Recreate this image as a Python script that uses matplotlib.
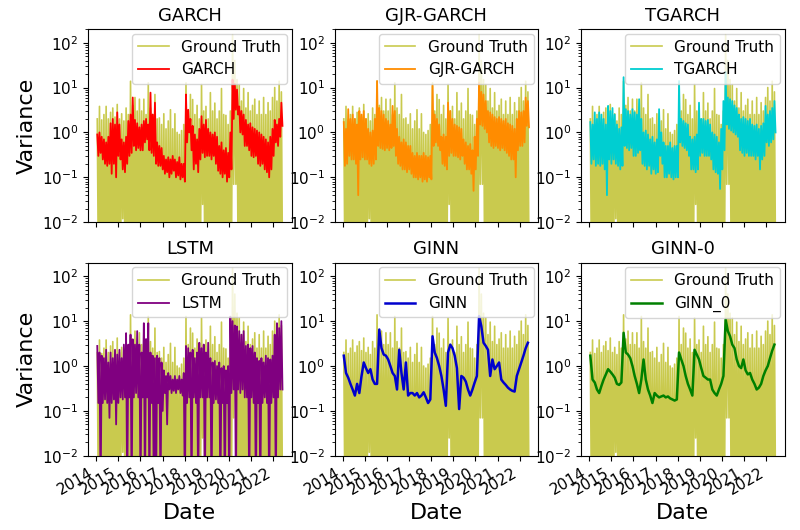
import numpy as np
import pandas as pd
import matplotlib
matplotlib.use("Agg")
import matplotlib.pyplot as plt
import matplotlib.dates as mdates

# sample dates (roughly every 5 weeks)
dates = pd.date_range("2014-01-20", "2022-05-15", periods=84)

# ground truth: upper envelope and lower values for each sample
gt_hi = [2.0, 3.8, 1.9, 2.5, 3.8, 2.0, 2.8, 3.5, 2.2, 4.2, 2.0, 2.6,
         1.8, 3.5, 2.5, 13.8, 4.0, 6.0, 3.0, 5.5, 3.0, 5.5, 2.5, 12.7,
         3.5, 2.5, 7.0, 2.0, 2.1, 1.5, 2.6, 1.2, 1.8, 3.2, 1.2, 2.6,
         1.0, 0.9, 1.1, 1.5, 12.7, 3.0, 7.0, 5.4, 2.5, 4.0, 2.0, 11.7,
         3.0, 3.8, 2.0, 7.7, 3.0, 4.5, 2.0, 3.0, 9.5, 2.5, 2.4, 1.5,
         3.0, 150.0, 40.0, 15.0, 11.7, 5.0, 9.5, 3.5, 7.7, 3.0, 4.0, 5.5,
         2.5, 5.0, 2.5, 6.0, 2.5, 4.6, 3.0, 6.0, 10.0, 5.0, 13.8, 8.0]
gt_lo = [0.001, 0.001, 0.001, 0.001, 0.001, 0.001, 0.001, 0.001, 0.001, 0.001, 0.001, 0.012,
         0.001, 0.001, 0.001, 0.001, 0.001, 0.001, 0.001, 0.001, 0.001, 0.001, 0.001, 0.001,
         0.001, 0.001, 0.001, 0.001, 0.001, 0.001, 0.001, 0.001, 0.001, 0.001, 0.001, 0.001,
         0.001, 0.001, 0.001, 0.001, 0.001, 0.001, 0.001, 0.001, 0.001, 0.001, 0.001, 0.025,
         0.001, 0.001, 0.001, 0.001, 0.001, 0.001, 0.001, 0.001, 0.001, 0.001, 0.001, 0.001,
         0.001, 0.07, 0.07, 0.001, 0.001, 0.001, 0.001, 0.001, 0.001, 0.001, 0.001, 0.001,
         0.001, 0.001, 0.001, 0.001, 0.001, 0.001, 0.001, 0.001, 0.001, 0.001, 0.001, 0.001]

garch_hi = [0.9, 1.0, 0.8, 0.7, 0.6, 0.8, 1.6, 2.0, 1.5, 2.8, 1.5, 0.7,
            0.6, 0.8, 1.8, 2.5, 6.0, 1.9, 1.6, 1.3, 1.5, 1.8, 2.0, 1.5,
            7.7, 2.5, 4.6, 0.6, 0.5, 0.45, 0.3, 0.25, 0.28, 0.25, 0.3, 0.25,
            0.22, 0.28, 0.2, 0.2, 7.0, 3.2, 2.0, 1.4, 0.9, 0.7, 1.2, 2.3,
            1.5, 1.9, 1.2, 1.0, 0.9, 1.0, 0.8, 0.5, 0.6, 0.4, 0.45, 0.35,
            1.0, 15.0, 12.0, 9.0, 3.8, 3.0, 2.5, 1.9, 1.5, 1.6, 1.3, 1.2,
            1.1, 1.0, 0.9, 0.8, 0.7, 0.6, 0.8, 1.2, 1.9, 1.5, 2.0, 4.6]
garch_lo = [0.3, 0.35, 0.25, 0.2, 0.18, 0.2, 0.12, 0.2, 0.1, 0.3, 0.25, 0.15,
            0.13, 0.2, 0.3, 0.35, 0.5, 0.4, 0.45, 0.4, 0.4, 0.6, 0.7, 0.4,
            0.35, 0.3, 0.2, 0.18, 0.18, 0.15, 0.12, 0.13, 0.1, 0.12, 0.14, 0.1,
            0.11, 0.09, 0.1, 0.08, 0.6, 1.0, 0.4, 0.15, 0.2, 0.13, 0.25, 0.35,
            0.28, 0.3, 0.3, 0.25, 0.3, 0.2, 0.14, 0.12, 0.1, 0.12, 0.08, 0.1,
            0.15, 2.0, 3.2, 2.5, 1.0, 0.9, 0.5, 0.5, 0.4, 0.3, 0.28, 0.3,
            0.2, 0.18, 0.2, 0.15, 0.13, 0.1, 0.15, 0.3, 0.6, 0.5, 0.8, 1.4]

gjr_hi = [1.7, 1.2, 3.3, 2.0, 2.5, 2.0, 1.5, 3.0, 2.5, 3.0, 2.0, 1.2,
          1.0, 1.1, 2.0, 14.0, 3.5, 3.0, 2.5, 2.0, 1.8, 1.5, 3.9, 3.0,
          1.2, 0.8, 0.6, 0.7, 0.6, 0.5, 0.5, 0.35, 0.3, 0.35, 0.3, 0.3,
          0.35, 0.3, 0.28, 0.3, 11.0, 2.5, 2.0, 1.5, 0.8, 0.9, 0.8, 4.6,
          3.0, 2.0, 1.5, 1.4, 1.3, 1.2, 0.7, 0.6, 0.5, 0.55, 0.4, 0.8,
          2.0, 13.0, 8.0, 7.0, 5.0, 3.0, 2.8, 2.5, 2.2, 2.0, 2.2, 2.0,
          1.8, 2.0, 1.6, 1.5, 1.4, 1.2, 2.0, 3.0, 2.8, 3.0, 6.0, 5.0]
gjr_lo = [0.18, 0.2, 0.3, 0.25, 0.25, 0.2, 0.04, 0.25, 0.28, 0.25, 0.25, 0.2,
          0.18, 0.2, 0.25, 0.5, 0.45, 0.43, 0.4, 0.45, 0.4, 0.45, 0.5, 0.3,
          0.2, 0.18, 0.15, 0.15, 0.13, 0.15, 0.12, 0.1, 0.1, 0.09, 0.1, 0.08,
          0.09, 0.08, 0.1, 0.09, 0.5, 0.6, 0.5, 0.4, 0.2, 0.18, 0.15, 0.3,
          0.35, 0.3, 0.3, 0.28, 0.25, 0.3, 0.2, 0.15, 0.15, 0.12, 0.05, 0.15,
          0.3, 1.5, 1.4, 1.2, 1.0, 0.6, 0.5, 0.45, 0.5, 0.45, 0.4, 0.45,
          0.4, 0.35, 0.3, 0.25, 0.25, 0.1, 0.4, 0.5, 0.5, 0.6, 1.4, 1.3]

tgarch_hi = [1.7, 1.5, 2.8, 2.0, 2.8, 2.5, 2.0, 1.5, 3.9, 3.0, 3.5, 2.5,
             1.5, 1.2, 1.3, 17.0, 3.3, 3.0, 2.5, 3.3, 2.8, 2.5, 5.5, 2.0,
             1.0, 1.1, 0.9, 0.7, 0.8, 0.6, 0.7, 3.3, 1.0, 0.6, 0.5, 0.5,
             0.6, 0.45, 0.5, 0.5, 14.0, 2.0, 1.8, 1.6, 1.5, 0.8, 0.7, 0.8,
             0.9, 4.6, 2.0, 2.0, 1.8, 1.9, 1.5, 1.0, 0.9, 0.8, 0.6, 1.2,
             5.0, 22.0, 6.0, 5.5, 5.0, 4.0, 3.5, 2.5, 2.0, 2.2, 2.0, 1.8,
             2.0, 1.5, 1.4, 1.5, 1.2, 1.4, 1.6, 3.9, 2.5, 3.0, 3.5, 5.0]
tgarch_lo = [0.2, 0.25, 0.18, 0.2, 0.18, 0.2, 0.15, 0.04, 0.25, 0.2, 0.25, 0.2,
             0.18, 0.15, 0.18, 0.5, 0.45, 0.4, 0.45, 0.3, 0.3, 0.35, 0.4, 0.2,
             0.18, 0.15, 0.18, 0.12, 0.15, 0.12, 0.13, 0.3, 0.2, 0.1, 0.1, 0.12,
             0.1, 0.09, 0.1, 0.1, 0.6, 0.5, 0.45, 0.4, 0.3, 0.15, 0.15, 0.13,
             0.15, 0.3, 0.35, 0.3, 0.3, 0.3, 0.25, 0.15, 0.13, 0.12, 0.055, 0.15,
             0.4, 1.5, 1.2, 1.1, 1.0, 0.9, 0.8, 0.4, 0.35, 0.3, 0.35, 0.3,
             0.3, 0.3, 0.25, 0.3, 0.15, 0.25, 0.3, 0.6, 0.5, 0.6, 0.7, 1.0]

lstm_hi = [2.8, 2.0, 1.7, 1.5, 2.3, 1.2, 2.0, 1.5, 2.3, 1.8, 2.3, 1.5,
           3.0, 5.4, 3.0, 5.0, 3.9, 3.0, 6.0, 3.0, 2.0, 9.0, 4.0, 9.0,
           2.0, 1.7, 1.5, 1.7, 1.5, 1.2, 0.8, 0.6, 0.7, 0.6, 0.5, 0.6,
           0.5, 0.6, 0.5, 0.7, 2.8, 2.5, 2.0, 2.3, 1.5, 2.0, 3.3, 2.5,
           3.0, 2.0, 3.3, 1.5, 1.2, 1.3, 1.0, 1.2, 0.9, 1.0, 0.8, 1.0,
           12.6, 10.0, 8.0, 7.6, 6.0, 5.0, 6.0, 2.8, 3.0, 2.5, 2.8, 2.0,
           1.5, 1.3, 1.5, 1.2, 1.7, 1.5, 1.4, 1.7, 5.0, 9.0, 7.0, 10.0]
lstm_lo = [0.15, 0.001, 0.15, 0.18, 0.15, 0.07, 0.15, 0.18, 0.05, 0.15, 0.2, 0.18,
           0.2, 0.001, 0.2, 0.001, 0.2, 0.25, 0.2, 0.001, 0.2, 0.001, 0.2, 0.001,
           0.15, 0.001, 0.001, 0.15, 0.001, 0.1, 0.25, 0.05, 0.3, 0.25, 0.28, 0.25,
           0.3, 0.25, 0.22, 0.001, 0.15, 0.2, 0.001, 0.2, 0.15, 0.001, 0.2, 0.2,
           0.001, 0.2, 0.2, 0.001, 0.15, 0.18, 0.15, 0.001, 0.15, 0.001, 0.15, 0.001,
           0.25, 0.3, 0.001, 0.3, 0.25, 0.3, 0.2, 0.2, 0.001, 0.2, 0.15, 0.001,
           0.15, 0.001, 0.15, 0.2, 0.15, 0.001, 0.15, 0.2, 0.001, 0.2, 0.3, 0.3]

ginn = [1.7, 0.7, 0.55, 0.4, 0.3, 0.22, 0.4, 0.25, 0.6, 1.2, 0.9, 0.7,
        0.85, 0.5, 0.4, 0.4, 6.5, 2.5, 1.8, 1.7, 1.4, 1.0, 0.7, 0.6,
        0.3, 2.3, 0.7, 0.3, 1.2, 0.22, 0.25, 0.25, 0.22, 0.25, 0.2, 0.22,
        0.26, 0.2, 0.15, 0.18, 4.6, 2.0, 1.5, 1.0, 0.6, 0.3, 0.13, 2.0,
        3.0, 2.5, 1.7, 0.9, 0.11, 0.6, 0.55, 0.45, 0.3, 0.22, 0.3, 0.43,
        0.6, 12.9, 7.7, 3.3, 2.8, 2.3, 0.6, 1.4, 0.85, 1.0, 1.2, 0.5,
        0.43, 0.38, 0.33, 0.3, 0.28, 0.27, 0.6, 0.85, 1.2, 1.7, 2.5, 3.3]

ginn0 = [1.7, 0.5, 0.43, 0.3, 0.25, 0.36, 0.5, 0.65, 0.85, 0.75, 0.65, 0.55,
         0.4, 0.38, 0.43, 5.5, 2.0, 1.8, 1.5, 1.0, 0.6, 0.4, 0.25, 0.5,
         1.4, 0.5, 0.3, 0.22, 0.15, 0.25, 0.22, 0.2, 0.21, 0.22, 0.2, 0.21,
         0.19, 0.18, 0.17, 0.18, 2.0, 1.4, 1.0, 0.6, 0.4, 0.3, 0.22, 2.3,
         1.8, 1.4, 0.9, 0.6, 0.55, 0.5, 0.5, 0.3, 0.25, 0.22, 0.3, 0.4,
         0.6, 10.8, 6.0, 4.6, 3.0, 2.5, 1.4, 1.0, 0.9, 1.4, 0.8, 0.65,
         0.7, 0.5, 0.4, 0.3, 0.33, 0.4, 0.6, 0.8, 1.0, 1.5, 2.2, 3.0]

titles = ["GARCH", "GJR-GARCH", "TGARCH", "LSTM", "GINN", "GINN-0"]
labels = ["GARCH", "GJR-GARCH", "TGARCH", "LSTM", "GINN", "GINN_0"]
colors = ["red", "darkorange", "darkturquoise", "purple", "mediumblue", "green"]
widths = [1.3, 1.3, 1.3, 1.3, 1.8, 1.8]

# hi/lo pairs are drawn as one dense zig-zag line
half = (dates[1] - dates[0]) / 2
t_pair = np.column_stack([dates.values, (dates + half).values]).ravel()


def pair(hi, lo):
    return np.column_stack([hi, lo]).ravel()


gt = pair(gt_hi, gt_lo)
models = [(t_pair, pair(garch_hi, garch_lo)),
          (t_pair, pair(gjr_hi, gjr_lo)),
          (t_pair, pair(tgarch_hi, tgarch_lo)),
          (t_pair, pair(lstm_hi, lstm_lo)),
          (dates, np.array(ginn)),
          (dates, np.array(ginn0))]

fig, axes = plt.subplots(2, 3, figsize=(8, 5.3), dpi=100, sharex=True)

for i, ax in enumerate(axes.flat):
    ax.plot(t_pair, gt, color="tab:olive", alpha=0.8, lw=1.2, label="Ground Truth")
    tx, ty = models[i]
    ax.plot(tx, ty, color=colors[i], lw=widths[i], label=labels[i])
    ax.set_yscale("log")
    ax.set_ylim(1e-2, 2e2)
    ax.set_title(titles[i], fontsize=13)
    ax.tick_params(labelsize=11)
    ax.legend(loc="upper right", fontsize=11, borderaxespad=0.3, handlelength=2.0)
    ax.xaxis.set_major_locator(mdates.YearLocator(1))
    ax.xaxis.set_major_formatter(mdates.DateFormatter("%Y"))

for ax in axes[:, 0]:
    ax.set_ylabel("Variance", fontsize=16)
for ax in axes[1, :]:
    ax.set_xlabel("Date", fontsize=16)

fig.autofmt_xdate(rotation=30, ha="right")
plt.subplots_adjust(left=0.11, right=0.981, bottom=0.14, top=0.945, wspace=0.21, hspace=0.21)

fig.savefig("out.png", dpi=100)
